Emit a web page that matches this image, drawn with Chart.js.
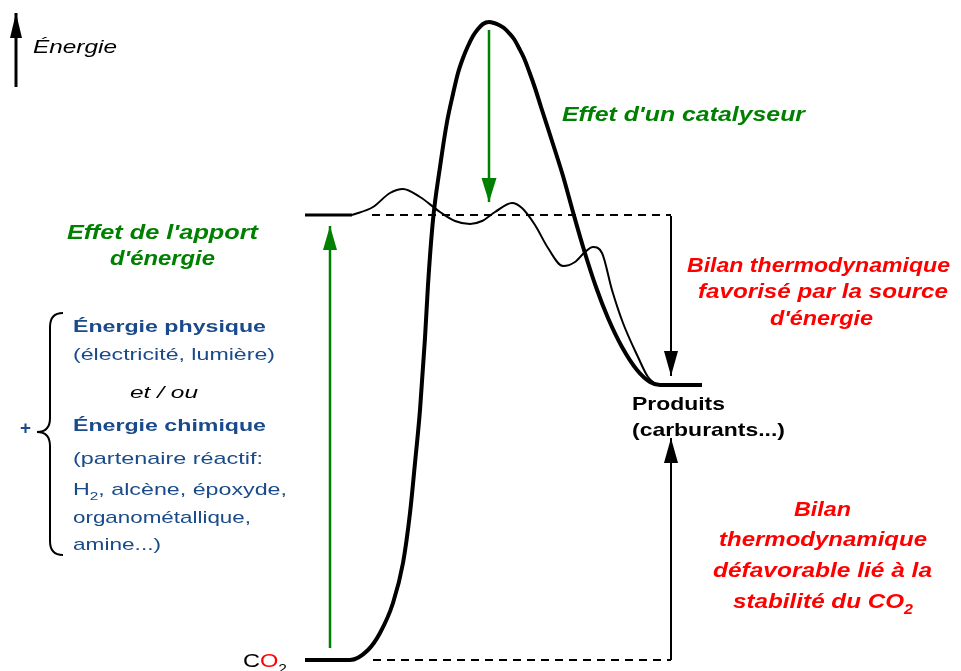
<!DOCTYPE html>
<html>
<head>
<meta charset="utf-8">
<script src="https://cdn.jsdelivr.net/npm/chart.js@4"></script>
<style>
  html, body { margin: 0; padding: 0; background: #fff; }
  #wrap { width: 961px; height: 671px; position: relative; }
</style>
</head>
<body>
<div id="wrap"><canvas id="diagram"></canvas></div>
<script>
const FONT = '"Liberation Sans", Arial, sans-serif';
const GREEN = "#008000";
const RED = "#ff0000";
const BLUE = "#1a4a8a";

// reaction coordinate / energy (CO2 = 0)
const uncatX = [305, 350, 368, 380, 393, 403, 410, 415, 420, 425, 428, 433, 440, 447, 453, 458, 463, 468, 473, 478, 483, 489, 494, 499, 504, 509, 514, 519, 524, 529, 535, 541, 552, 563, 573, 584, 596, 608, 622, 637, 650, 660, 702];
const uncatE = [0, 0, 10, 27, 57, 97, 147, 197, 250, 322, 375, 440, 493, 538, 566, 587, 602, 614, 624, 631, 636, 638, 637, 635, 632, 627, 621, 612, 602, 589, 572, 553, 519, 484, 448, 410, 373, 342, 313, 290, 278, 275, 275];

const startX = [305, 352];
const startE = [445, 445];

const catX = [352, 373, 390, 403, 420, 440, 455, 470, 482, 495, 512, 522, 535, 548, 563, 575, 585, 593, 602, 612, 623, 638, 648, 657];
const catE = [445, 453, 467, 471, 463, 448, 439, 436, 439, 448, 457, 452, 435, 412, 394, 398, 408, 413, 407, 370, 337, 303, 283, 275];

const dashTopX = [372, 671];
const dashTopE = [445, 445];
const dashBotX = [373, 671];
const dashBotE = [0, 0];

// arrows: [x0, e0, x1, e1] (tip last)
const axisArrow = [16, 573, 16, 647];
const supplyArrow = [330, 12, 330, 434];
const catalystArrow = [489, 630, 489, 458];
const favouredArrow = [671, 444, 671, 284];
const unfavouredArrow = [671, 0, 671, 222];

const pts = (xs, es) => xs.map((x, i) => ({ x: x, y: es[i] }));

function arrowSet(a, color, width, len, half) {
  return {
    data: [{ x: a[0], y: a[1] }, { x: a[2], y: a[3] }],
    borderColor: color,
    borderWidth: width,
    tension: 0,
    arrow: { len: len, half: half },
  };
}

const labels = [
  { x: 33, e: 607, size: 18, style: "italic", color: "#000", w: 84, parts: [["Énergie"]] },
  { x: 562, e: 539.5, size: 21, style: "italic bold", color: GREEN, w: 243, parts: [["Effet d'un catalyseur"]] },
  { x: 67, e: 421, size: 20, style: "italic bold", color: GREEN, w: 191, parts: [["Effet de l'apport"]] },
  { x: 110, e: 395, size: 20, style: "italic bold", color: GREEN, w: 105, parts: [["d'énergie"]] },
  { x: 687, e: 388.5, size: 21, style: "italic bold", color: RED, w: 263, parts: [["Bilan thermodynamique"]] },
  { x: 698, e: 362, size: 21, style: "italic bold", color: RED, w: 250, parts: [["favorisé par la source"]] },
  { x: 770, e: 335, size: 21, style: "italic bold", color: RED, w: 103, parts: [["d'énergie"]] },
  { x: 632, e: 250, size: 19, style: "bold", color: "#000", w: 93, parts: [["Produits"]] },
  { x: 632, e: 224, size: 19, style: "bold", color: "#000", w: 153, parts: [["(carburants...)"]] },
  { x: 794, e: 144, size: 21, style: "italic bold", color: RED, w: 57, parts: [["Bilan"]] },
  { x: 719, e: 114, size: 21, style: "italic bold", color: RED, w: 208, parts: [["thermodynamique"]] },
  { x: 713, e: 83, size: 21, style: "italic bold", color: RED, w: 219, parts: [["défavorable lié à la"]] },
  { x: 733, e: 52, size: 21, style: "italic bold", color: RED, w: 180, parts: [["stabilité du CO"], ["2", "sub"]] },
  { x: 73, e: 328, size: 17, style: "bold", color: BLUE, w: 193, parts: [["Énergie physique"]] },
  { x: 73, e: 300, size: 17, style: "", color: BLUE, w: 202, parts: [["(électricité, lumière)"]] },
  { x: 130, e: 262, size: 17, style: "italic", color: "#000", w: 68, parts: [["et / ou"]] },
  { x: 73, e: 229, size: 17, style: "bold", color: BLUE, w: 193, parts: [["Énergie chimique"]] },
  { x: 73, e: 196, size: 17, style: "", color: BLUE, w: 190, parts: [["(partenaire réactif:"]] },
  { x: 73, e: 165, size: 17, style: "", color: BLUE, w: 214, parts: [["H"], ["2", "sub"], [", alcène, époxyde,"]] },
  { x: 73, e: 137, size: 17, style: "", color: BLUE, w: 178, parts: [["organométallique,"]] },
  { x: 73, e: 110, size: 17, style: "", color: BLUE, w: 88, parts: [["amine...)"]] },
  { x: 20, e: 226, size: 18, style: "bold", color: BLUE, w: 11, parts: [["+"]] },
  { x: 243, e: -7, size: 19, style: "", color: "#000", w: 44, parts: [["C"], ["O", "", RED], ["2", "sub"]] },
];

// curly brace next to the energy sources, in chart units
const brace = { x: 50, tipX: 63, cuspX: 37, top: 347, mid: 228, bottom: 105, r: 14 };

const arrowHeads = {
  id: "arrowHeads",
  afterDatasetsDraw(chart) {
    const ctx = chart.ctx;
    chart.data.datasets.forEach((ds, i) => {
      if (!ds.arrow) return;
      const p = chart.getDatasetMeta(i).data;
      const tip = p[p.length - 1];
      const from = p[p.length - 2];
      const a = Math.atan2(tip.y - from.y, tip.x - from.x);
      const bx = tip.x - ds.arrow.len * Math.cos(a);
      const by = tip.y - ds.arrow.len * Math.sin(a);
      const nx = -Math.sin(a) * ds.arrow.half;
      const ny = Math.cos(a) * ds.arrow.half;
      ctx.save();
      ctx.fillStyle = ds.borderColor;
      ctx.beginPath();
      ctx.moveTo(tip.x, tip.y);
      ctx.lineTo(bx + nx, by + ny);
      ctx.lineTo(bx - nx, by - ny);
      ctx.closePath();
      ctx.fill();
      ctx.restore();
    });
  },
};

const textLayer = {
  id: "textLayer",
  afterDraw(chart) {
    const ctx = chart.ctx;
    const xs = chart.scales.x;
    const ys = chart.scales.y;

    labels.forEach((l) => {
      const fontFor = (p) => {
        const sz = p[1] === "sub" ? l.size * 0.66 : l.size;
        return (l.style ? l.style + " " : "") + sz + "px " + FONT;
      };
      let total = 0;
      l.parts.forEach((p) => {
        ctx.font = fontFor(p);
        total += ctx.measureText(p[0]).width;
      });
      const sx = l.w / total;
      ctx.save();
      ctx.translate(xs.getPixelForValue(l.x), ys.getPixelForValue(l.e));
      ctx.scale(sx, 1);
      ctx.textBaseline = "alphabetic";
      let cx = 0;
      l.parts.forEach((p) => {
        ctx.font = fontFor(p);
        ctx.fillStyle = p[2] || l.color;
        ctx.fillText(p[0], cx, p[1] === "sub" ? l.size * 0.3 : 0);
        cx += ctx.measureText(p[0]).width;
      });
      ctx.restore();
    });

    const bx = xs.getPixelForValue(brace.x);
    const tx = xs.getPixelForValue(brace.tipX);
    const kx = xs.getPixelForValue(brace.cuspX);
    const top = ys.getPixelForValue(brace.top);
    const mid = ys.getPixelForValue(brace.mid);
    const bot = ys.getPixelForValue(brace.bottom);
    const r = brace.r;
    ctx.save();
    ctx.strokeStyle = "#000";
    ctx.lineWidth = 2;
    ctx.beginPath();
    ctx.moveTo(tx, top);
    ctx.quadraticCurveTo(bx, top, bx, top + r);
    ctx.lineTo(bx, mid - r);
    ctx.quadraticCurveTo(bx, mid, kx, mid);
    ctx.quadraticCurveTo(bx, mid, bx, mid + r);
    ctx.lineTo(bx, bot - r);
    ctx.quadraticCurveTo(bx, bot, tx, bot);
    ctx.stroke();
    ctx.restore();
  },
};

new Chart(document.getElementById("diagram"), {
  type: "line",
  data: {
    datasets: [
      { data: pts(dashTopX, dashTopE), borderColor: "#000", borderWidth: 2, borderDash: [8, 6], tension: 0 },
      { data: pts(dashBotX, dashBotE), borderColor: "#000", borderWidth: 2, borderDash: [8, 6], tension: 0 },
      { data: pts(startX, startE), borderColor: "#000", borderWidth: 3, tension: 0 },
      { data: pts(catX, catE), borderColor: "#000", borderWidth: 2, cubicInterpolationMode: "monotone" },
      { data: pts(uncatX, uncatE), borderColor: "#000", borderWidth: 4, cubicInterpolationMode: "monotone" },
      arrowSet(axisArrow, "#000", 3, 25, 6),
      arrowSet(supplyArrow, GREEN, 2.5, 24, 7),
      arrowSet(catalystArrow, GREEN, 2.5, 24, 7.5),
      arrowSet(favouredArrow, "#000", 2, 25, 7),
      arrowSet(unfavouredArrow, "#000", 2, 25, 7),
    ],
  },
  options: {
    responsive: true,
    maintainAspectRatio: false,
    animation: false,
    events: [],
    layout: { padding: 0 },
    elements: { point: { radius: 0 }, line: { borderCapStyle: "butt", fill: false } },
    plugins: { legend: { display: false }, tooltip: { enabled: false } },
    scales: {
      x: { type: "linear", display: false, min: 0, max: 961 },
      y: { type: "linear", display: false, min: -11, max: 660 },
    },
  },
  plugins: [arrowHeads, textLayer],
});
</script>
</body>
</html>
